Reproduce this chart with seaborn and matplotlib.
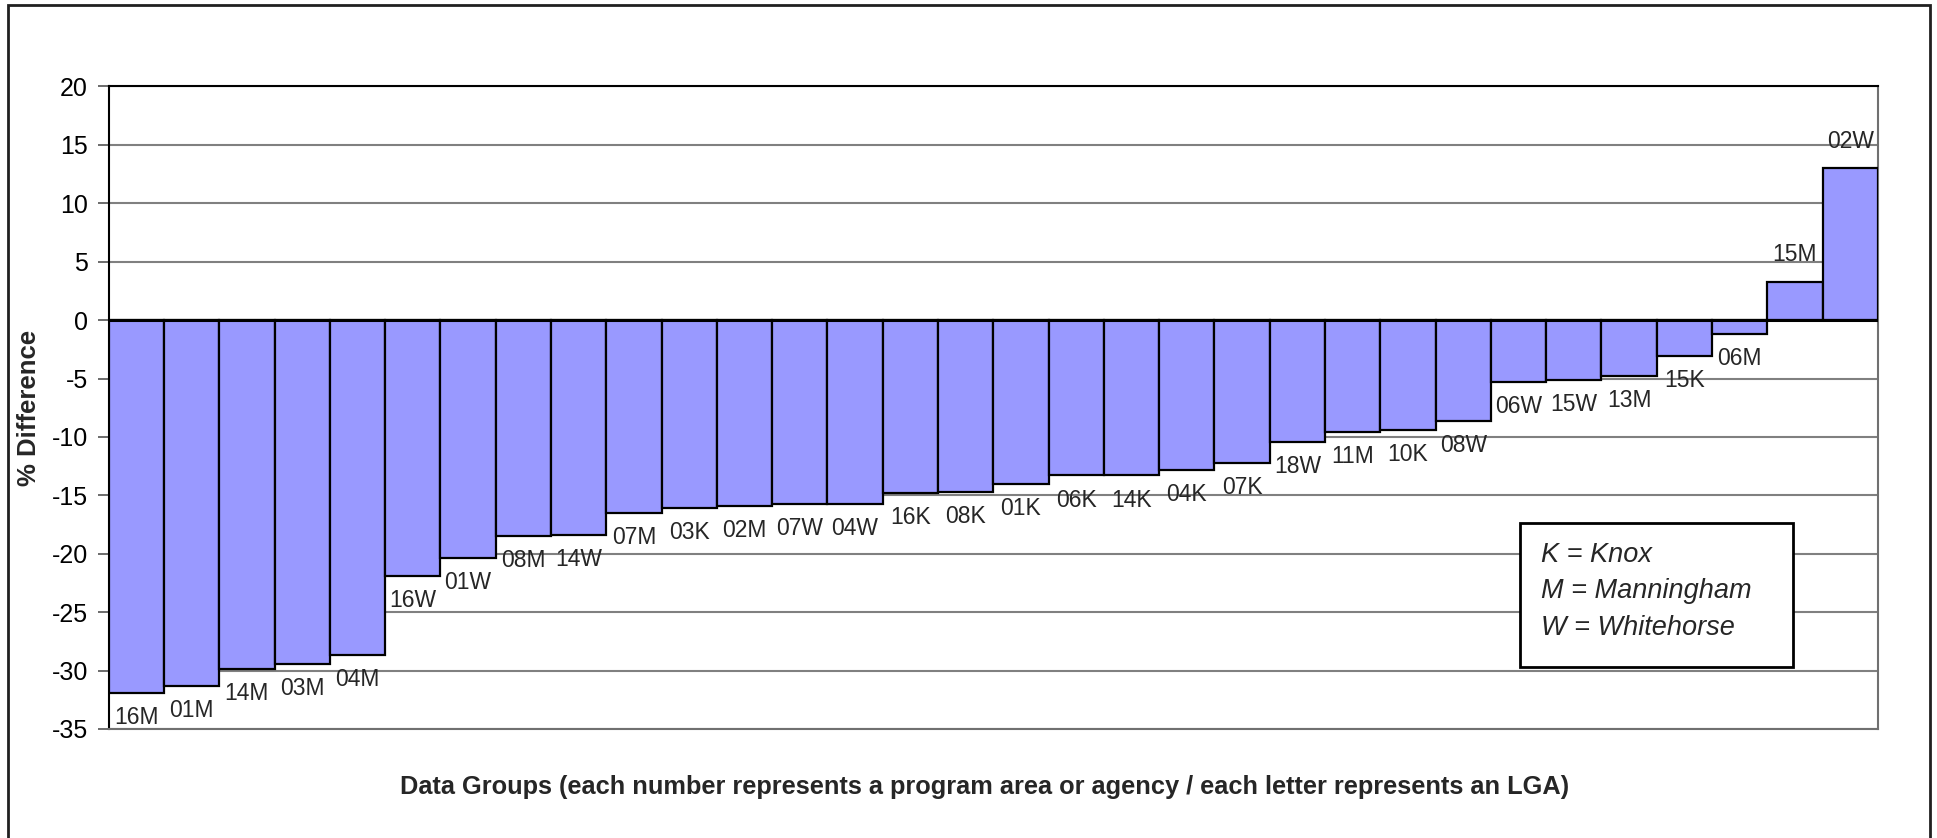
import matplotlib
matplotlib.use('Agg')
import matplotlib.pyplot as plt
import matplotlib.patches as mpatches
import seaborn as sns
import pandas as pd

# data groups, sorted by % difference
groups = ['16M', '01M', '14M', '03M', '04M', '16W', '01W', '08M', '14W', '07M',
          '03K', '02M', '07W', '04W', '16K', '08K', '01K', '06K', '14K', '04K',
          '07K', '18W', '11M', '10K', '08W', '06W', '15W', '13M', '15K', '06M',
          '15M', '02W']
pct_diff = [-31.9, -31.3, -29.9, -29.4, -28.7, -21.9, -20.4, -18.5, -18.4, -16.5,
            -16.1, -15.9, -15.7, -15.7, -14.8, -14.7, -14.0, -13.3, -13.3, -12.8,
            -12.2, -10.4, -9.6, -9.4, -8.6, -5.3, -5.1, -4.8, -3.1, -1.2,
            3.3, 13.0]
y_ticks = [20, 15, 10, 5, 0, -5, -10, -15, -20, -25, -30, -35]
key_lines = ['K = Knox', 'M = Manningham', 'W = Whitehorse']

df = pd.DataFrame({'group': groups, 'diff': pct_diff})

sns.set_style('white')
plt.rcParams['font.family'] = ['Liberation Sans', 'DejaVu Sans']
plt.rcParams['axes.unicode_minus'] = False

fig = plt.figure(figsize=(19.37, 8.38), dpi=100)
ax = fig.add_axes([0.0561, 0.1301, 0.9134, 0.7667])

sns.barplot(data=df, x='group', y='diff', order=groups, color='#9999FF',
            saturation=1, width=1.0, edgecolor='black', linewidth=1.6, ax=ax, zorder=3)

ax.axhline(0, color='black', lw=2.2, zorder=4)
ax.set_ylim(-35, 20)
ax.set_xlim(-0.5, len(groups) - 0.5)
ax.set_yticks(y_ticks)
ax.yaxis.grid(True, color='#808080', lw=1.5, zorder=0)
ax.set_axisbelow(True)
ax.set_xticks([])
ax.tick_params(axis='y', left=True, length=8, width=1.3, color='#606060',
               pad=7, labelsize=18, labelcolor='black')

for side in ['left', 'top']:
    ax.spines[side].set_color('black')
    ax.spines[side].set_linewidth(1.5)
for side in ['right', 'bottom']:
    ax.spines[side].set_color('#707070')
    ax.spines[side].set_linewidth(1.5)

# data labels
for i, (g, v) in enumerate(zip(groups, pct_diff)):
    yy = v - 2.1 if v < 0 else v + 2.3
    ax.text(i, yy, g, ha='center', va='center', fontsize=16.5, zorder=6)

ax.set_ylabel('% Difference', fontsize=18.5, fontweight='bold')
ax.yaxis.set_label_coords(-0.038, 0.5)
ax.set_xlabel('Data Groups (each number represents a program area or agency / each letter represents an LGA)',
              fontsize=18.3, fontweight='bold')
ax.xaxis.set_label_coords(0.495, -0.072)

# key box
box = mpatches.Rectangle((0.7975, 0.0965), 0.1547, 0.2241, transform=ax.transAxes,
                         facecolor='white', edgecolor='black', lw=2, zorder=7)
ax.add_patch(box)
for k, line in enumerate(key_lines):
    ax.text(0.8093, 0.2604 - k * 0.057, line, transform=ax.transAxes, ha='left',
            va='baseline', fontsize=19.5, style='italic', zorder=8)

# outer chart frame
frame = mpatches.Rectangle((8 / 1937, -0.01), 1922 / 1937, 1.01 - 5 / 838,
                           transform=fig.transFigure, fill=False,
                           edgecolor='#202020', lw=2)
fig.patches.append(frame)

fig.savefig('out.png', dpi=100)
plt.close()
